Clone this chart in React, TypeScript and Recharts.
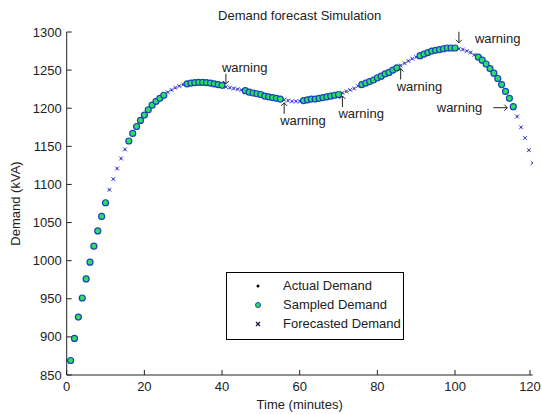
import React from "react";
import { ScatterChart, Scatter, XAxis, YAxis, ReferenceDot, Legend } from "recharts";

// demand (kVA), one value per minute, minutes 1..120
const actualDemand = [
  869, 898, 926, 951, 976, 998, 1019, 1039, 1058, 1076,
  1093, 1107, 1121, 1134, 1146, 1157, 1167, 1176, 1184, 1191,
  1198, 1204, 1209, 1213, 1217, 1221, 1224, 1227, 1229, 1231,
  1232, 1233, 1233.5, 1234, 1234, 1233.5, 1233, 1232, 1231, 1230,
  1228, 1227, 1226, 1225, 1224, 1223, 1221, 1220, 1219, 1218,
  1216, 1215, 1214, 1213, 1212, 1211, 1210, 1209, 1209, 1209,
  1210, 1211, 1212, 1212, 1213, 1214, 1215, 1216, 1217, 1218,
  1220, 1222, 1224, 1226, 1229, 1231, 1233, 1235, 1237, 1240,
  1242, 1245, 1247, 1250, 1253, 1256, 1259, 1262, 1265, 1267,
  1269, 1271, 1273, 1275, 1276, 1277, 1278, 1279, 1279, 1279,
  1278, 1277, 1275, 1273, 1270, 1267, 1263, 1258, 1252, 1246,
  1239, 1231, 1222, 1213, 1202, 1189, 1175, 1161, 1145, 1128,
];

// minute ranges that were sampled / forecasted
const sampledRuns = [[1, 10], [16, 25], [31, 40], [46, 55], [61, 70], [76, 85], [91, 100], [106, 115]];
const forecastRuns = [[11, 15], [26, 30], [41, 45], [56, 60], [71, 75], [86, 90], [101, 105], [116, 120]];

const warningMinutes = [41, 56, 71, 86, 101, 115];
const warningSides = ["above", "below", "below", "below", "aboveRight", "left"];

const timeTicks = [0, 20, 40, 60, 80, 100, 120];
const demandTicks = [850, 900, 950, 1000, 1050, 1100, 1150, 1200, 1250, 1300];
const legendLabels = ["Actual Demand", "Sampled Demand", "Forecasted Demand"];

const FONT = "'Liberation Sans', Arial, sans-serif";
const INK = "#222";
const GREEN = "#26e35a";
const RIM = "#1d3fc4";

const actualData = actualDemand.map((d, i) => ({ time: i + 1, demand: d }));
const inRuns = (t: number, runs: number[][]) => runs.some(([a, b]) => t >= a && t <= b);
const sampledData = actualData.filter((p) => inRuns(p.time, sampledRuns));
const forecastData = actualData.filter((p) => inRuns(p.time, forecastRuns));

const DotShape = (props: any) => <circle cx={props.cx} cy={props.cy} r={1} fill="#000" />;
const CircleShape = (props: any) => (
  <circle cx={props.cx} cy={props.cy} r={3} fill={GREEN} stroke={RIM} strokeWidth={1.2} />
);
const CrossShape = (props: any) => {
  const { cx, cy } = props;
  return (
    <g stroke="#4a50e8" strokeWidth={1}>
      <line x1={cx - 2} y1={cy - 2} x2={cx + 2} y2={cy + 2} />
      <line x1={cx - 2} y1={cy + 2} x2={cx + 2} y2={cy - 2} />
    </g>
  );
};

const BottomTick = (props: any) => {
  const { x, y, payload } = props;
  const axisY = y - 7;
  return (
    <g>
      <line x1={x} x2={x} y1={axisY} y2={axisY - 5} stroke={INK} />
      <text x={x} y={y} dy="0.71em" textAnchor="middle" fontSize={13} fontFamily={FONT} fill={INK}>
        {payload.value}
      </text>
    </g>
  );
};

const LeftTick = (props: any) => {
  const { x, y, payload } = props;
  const axisX = x + 5;
  return (
    <g>
      <line x1={axisX} x2={axisX + 5} y1={y} y2={y} stroke={INK} />
      <text x={x} y={y} dy="0.35em" textAnchor="end" fontSize={13} fontFamily={FONT} fill={INK}>
        {payload.value}
      </text>
    </g>
  );
};

const warningShape = (side: string) => (props: any) => {
  const { cx, cy } = props;
  const txt = { fontSize: 13, fontFamily: FONT, fill: INK };
  if (side === "above") {
    return (
      <g>
        <text x={cx - 4} y={cy - 15} {...txt}>warning</text>
        <line x1={cx} y1={cy - 13} x2={cx} y2={cy - 3} stroke={INK} />
        <path d={`M${cx - 3} ${cy - 6} L${cx} ${cy - 3} L${cx + 3} ${cy - 6}`} fill="none" stroke={INK} />
      </g>
    );
  }
  if (side === "below") {
    return (
      <g>
        <text x={cx - 4} y={cy + 25} {...txt}>warning</text>
        <line x1={cx} y1={cy + 3} x2={cx} y2={cy + 14} stroke={INK} />
        <path d={`M${cx - 3} ${cy + 6} L${cx} ${cy + 3} L${cx + 3} ${cy + 6}`} fill="none" stroke={INK} />
      </g>
    );
  }
  if (side === "aboveRight") {
    return (
      <g>
        <text x={cx + 16} y={cy - 6} {...txt}>warning</text>
        <line x1={cx} y1={cy - 17} x2={cx} y2={cy - 6} stroke={INK} />
        <path d={`M${cx - 3} ${cy - 9} L${cx} ${cy - 6} L${cx + 3} ${cy - 9}`} fill="none" stroke={INK} />
      </g>
    );
  }
  return (
    <g>
      <text x={cx - 31} y={cy + 5} textAnchor="end" {...txt}>warning</text>
      <line x1={cx - 20} y1={cy + 1} x2={cx - 6} y2={cy + 1} stroke={INK} />
      <path d={`M${cx - 9} ${cy - 2} L${cx - 6} ${cy + 1} L${cx - 9} ${cy + 4}`} fill="none" stroke={INK} />
    </g>
  );
};

const legendMarkers = [
  <circle cx={6} cy={6} r={1.5} fill="#000" />,
  <circle cx={6} cy={6} r={2.5} fill={GREEN} stroke={RIM} strokeWidth={1} />,
  <g stroke="#1a1a40" strokeWidth={1.3}>
    <line x1={4} y1={4} x2={8} y2={8} />
    <line x1={4} y1={8} x2={8} y2={4} />
  </g>,
];

const renderLegend = () => (
  <div
    style={{
      width: 176,
      height: 63,
      border: "1px solid #000",
      background: "#fff",
      paddingTop: 3,
      boxSizing: "content-box",
      fontFamily: FONT,
      fontSize: 13,
      color: INK,
    }}
  >
    {legendLabels.map((label, i) => (
      <div key={label} style={{ height: 19, display: "flex", alignItems: "center" }}>
        <svg width={12} height={12} style={{ marginLeft: 25, marginRight: 19 }}>
          {legendMarkers[i]}
        </svg>
        <span>{label}</span>
      </div>
    ))}
  </div>
);

export default function App() {
  return (
    <div style={{ position: "absolute", left: 0, top: 0, width: 542, height: 414, background: "#fff" }}>
      <div
        style={{
          position: "absolute",
          left: 66.7,
          width: 466,
          top: 9,
          textAlign: "center",
          fontFamily: FONT,
          fontSize: 13,
          lineHeight: "13px",
          color: INK,
        }}
      >
        Demand forecast Simulation
      </div>
      <ScatterChart width={542} height={414} margin={{ top: 32, right: 9.3, bottom: 0, left: 0 }}>
        <XAxis
          xAxisId="bottom"
          type="number"
          dataKey="time"
          domain={[0, 120]}
          ticks={timeTicks}
          allowDataOverflow
          height={39}
          stroke={INK}
          tickLine={false}
          tickSize={0}
          tickMargin={7}
          tick={<BottomTick />}
          label={{ value: "Time (minutes)", position: "insideBottom", offset: 5, fontSize: 13, fontFamily: FONT, fill: INK }}
        />
        <XAxis
          xAxisId="top"
          orientation="top"
          type="number"
          dataKey="time"
          domain={[0, 120]}
          ticks={timeTicks}
          height={0}
          mirror
          tick={false}
          tickSize={5}
          stroke={INK}
        />
        <YAxis
          yAxisId="left"
          type="number"
          dataKey="demand"
          domain={[850, 1300]}
          ticks={demandTicks}
          allowDataOverflow
          width={66.7}
          stroke={INK}
          tickLine={false}
          tickSize={0}
          tickMargin={5}
          tick={<LeftTick />}
          label={{ value: "Demand (kVA)", angle: -90, position: "insideLeft", offset: 15, fontSize: 13, fontFamily: FONT, fill: INK, style: { textAnchor: "middle" } }}
        />
        <YAxis
          yAxisId="right"
          orientation="right"
          type="number"
          dataKey="demand"
          domain={[850, 1300]}
          ticks={demandTicks}
          width={0}
          mirror
          tick={false}
          tickSize={5}
          stroke={INK}
        />
        <Scatter
          name="Actual Demand"
          data={actualData}
          xAxisId="bottom"
          yAxisId="left"
          shape={DotShape}
          isAnimationActive={false}
        />
        <Scatter
          name="Forecasted Demand"
          data={forecastData}
          xAxisId="bottom"
          yAxisId="left"
          shape={CrossShape}
          isAnimationActive={false}
        />
        <Scatter
          name="Sampled Demand"
          data={sampledData}
          xAxisId="bottom"
          yAxisId="left"
          shape={CircleShape}
          isAnimationActive={false}
        />
        {warningMinutes.map((t, i) => (
          <ReferenceDot
            key={t}
            xAxisId="bottom"
            yAxisId="left"
            x={t}
            y={actualDemand[t - 1]}
            ifOverflow="visible"
            shape={warningShape(warningSides[i])}
          />
        ))}
        <Legend
          layout="horizontal"
          verticalAlign="middle"
          align="center"
          content={renderLegend}
          wrapperStyle={{ left: 226, top: 272, width: 178, height: 67 }}
        />
      </ScatterChart>
    </div>
  );
}
